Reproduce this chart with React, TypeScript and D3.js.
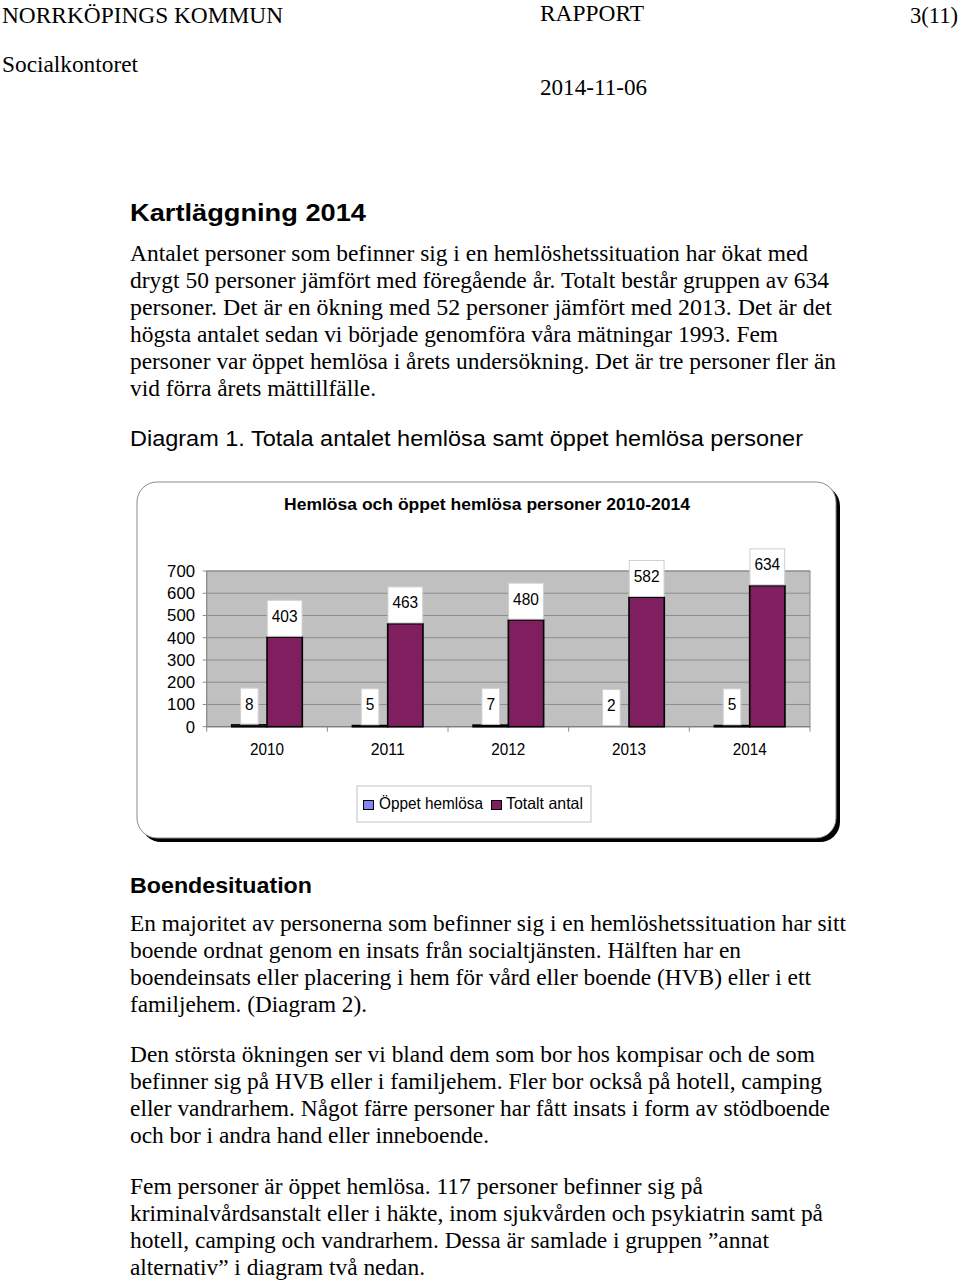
import React from "react";
import * as d3 from "d3";

// ---------- data ----------
const years = ["2010", "2011", "2012", "2013", "2014"];
const oppetHemlosa = [8, 5, 7, 2, 5];
const totaltAntal = [403, 463, 480, 582, 634];
const seriesNames = ["Öppet hemlösa", "Totalt antal"];
const seriesColors = ["#8484f2", "#7f1f5f"];
const yTicks = [0, 100, 200, 300, 400, 500, 600, 700];

const chartTitle = "Hemlösa och öppet hemlösa personer 2010-2014";

// ---------- page text ----------
const serif = "'Liberation Serif', 'Times New Roman', serif";
const sans = "'Liberation Sans', Arial, sans-serif";

type Line = { t: string; x: number; y: number; w: number };

const headerLines: Line[] = [
  { t: "NORRKÖPINGS KOMMUN", x: 2, y: 23, w: 281 },
  { t: "RAPPORT", x: 540, y: 21, w: 104 },
  { t: "3(11)", x: 910, y: 23, w: 48 },
  { t: "Socialkontoret", x: 2, y: 72, w: 136 },
  { t: "2014-11-06", x: 540, y: 95, w: 107 },
];

const para1 = [
  "Antalet personer som befinner sig i en hemlöshetssituation har ökat med",
  "drygt 50 personer jämfört med föregående år. Totalt består gruppen av 634",
  "personer. Det är en ökning med 52 personer jämfört med 2013. Det är det",
  "högsta antalet sedan vi började genomföra våra mätningar 1993. Fem",
  "personer var öppet hemlösa i årets undersökning. Det är tre personer fler än",
  "vid förra årets mättillfälle.",
];
const para1Right = [808, 829, 832, 778, 836, 376];
const para2 = [
  "En majoritet av personerna som befinner sig i en hemlöshetssituation har sitt",
  "boende ordnat genom en insats från socialtjänsten. Hälften har en",
  "boendeinsats eller placering i hem för vård eller boende (HVB) eller i ett",
  "familjehem. (Diagram 2).",
];
const para2Right = [846, 741, 811, 367];
const para3 = [
  "Den största ökningen ser vi bland dem som bor hos kompisar och de som",
  "befinner sig på HVB eller i familjehem. Fler bor också på hotell, camping",
  "eller vandrarhem. Något färre personer har fått insats i form av stödboende",
  "och bor i andra hand eller inneboende.",
];
const para3Right = [815, 822, 830, 489];
const para4 = [
  "Fem personer är öppet hemlösa. 117 personer befinner sig på",
  "kriminalvårdsanstalt eller i häkte, inom sjukvården och psykiatrin samt på",
  "hotell, camping och vandrarhem. Dessa är samlade i gruppen ”annat",
  "alternativ” i diagram två nedan.",
];
const para4Right = [703, 823, 769, 425];

function Para({ lines, rights, top }: { lines: string[]; rights: number[]; top: number }) {
  return (
    <g>
      {lines.map((t, i) => (
        <text
          key={i}
          x={130}
          y={top + i * 27}
          fontFamily={serif}
          fontSize={24}
          textLength={rights[i] - 130}
          lengthAdjust="spacingAndGlyphs"
          fill="#000"
        >
          {t}
        </text>
      ))}
    </g>
  );
}

export default function App() {
  // chart geometry
  const plotLeft = 206.7;
  const plotRight = 810;
  const plotTop = 571;
  const plotBottom = 726.7;

  const x0 = d3.scaleBand<string>().domain(years).range([plotLeft, plotRight]).paddingInner(0).paddingOuter(0);
  const x1 = d3
    .scaleBand<string>()
    .domain(seriesNames)
    .range([0, x0.bandwidth()])
    .paddingInner(0)
    .paddingOuter(0.71);
  const y = d3.scaleLinear().domain([0, 700]).range([plotBottom, plotTop]);

  const series = [oppetHemlosa, totaltAntal];
  const bw = x1.bandwidth();

  const boundaries = years.map((yr) => x0(yr) as number).concat([plotRight]);

  const labelFont = 16.5;
  const digitW = 8.6;

  return (
    <div style={{ position: "absolute", left: 0, top: 0 }}>
      <svg width={960} height={1283} style={{ display: "block" }}>
        <rect x={0} y={0} width={960} height={1283} fill="#fff" />

        {headerLines.map((l, i) => (
          <text
            key={i}
            x={l.x}
            y={l.y}
            fontFamily={serif}
            fontSize={24}
            textLength={l.w}
            lengthAdjust="spacingAndGlyphs"
          >
            {l.t}
          </text>
        ))}

        <text x={130} y={221} fontFamily={sans} fontWeight="bold" fontSize={24} textLength={236} lengthAdjust="spacingAndGlyphs">
          Kartläggning 2014
        </text>
        <Para lines={para1} rights={para1Right} top={261} />
        <text x={130} y={446} fontFamily={sans} fontSize={22} textLength={673} lengthAdjust="spacingAndGlyphs">
          Diagram 1. Totala antalet hemlösa samt öppet hemlösa personer
        </text>

        {/* chart frame */}
        <rect x={141} y={486} width={699} height={356} rx={20} ry={20} fill="#000" />
        <rect x={137} y={482} width={699} height={356} rx={20} ry={20} fill="#fff" stroke="#8a8a8a" strokeWidth={1} />

        <text
          x={487}
          y={510}
          textAnchor="middle"
          fontFamily={sans}
          fontWeight="bold"
          fontSize={16.5}
          textLength={406}
          lengthAdjust="spacingAndGlyphs"
        >
          {chartTitle}
        </text>

        {/* plot area */}
        <rect x={plotLeft} y={plotTop} width={plotRight - plotLeft} height={plotBottom - plotTop} fill="#c0c0c0" stroke="#8c8c8c" strokeWidth={1} />
        {yTicks.map((t) => (
          <g key={t}>
            <line x1={plotLeft} x2={plotRight} y1={y(t)} y2={y(t)} stroke="#8c8c8c" strokeWidth={1} />
            <line x1={plotLeft - 4} x2={plotLeft} y1={y(t)} y2={y(t)} stroke="#8c8c8c" strokeWidth={1} />
            <text x={195} y={y(t) + 6} textAnchor="end" fontFamily={sans} fontSize={16.5} textLength={String(t).length * 9.3} lengthAdjust="spacingAndGlyphs" fill="#000">
              {t}
            </text>
          </g>
        ))}
        <line x1={plotLeft} x2={plotLeft} y1={plotTop} y2={plotBottom} stroke="#8c8c8c" strokeWidth={1} />
        <line x1={plotLeft} x2={plotRight} y1={plotBottom} y2={plotBottom} stroke="#7a7a7a" strokeWidth={1} />
        {boundaries.map((bx, i) => (
          <line key={i} x1={bx} x2={bx} y1={plotBottom} y2={plotBottom + 5} stroke="#8c8c8c" strokeWidth={1} />
        ))}
        {years.map((yr) => (
          <text
            key={yr}
            x={(x0(yr) as number) + x0.bandwidth() / 2}
            y={755}
            textAnchor="middle"
            fontFamily={sans}
            fontSize={16.5}
            textLength={34}
            lengthAdjust="spacingAndGlyphs"
          >
            {yr}
          </text>
        ))}

        {/* bars */}
        {series.map((vals, si) =>
          vals.map((v, i) => {
            const bx = (x0(years[i]) as number) + (x1(seriesNames[si]) as number);
            const top = y(v);
            const h = plotBottom - top;
            return (
              <rect
                key={`${si}-${i}`}
                x={bx}
                y={top}
                width={bw}
                height={h}
                fill={h >= 1 ? seriesColors[si] : "none"}
                stroke={h >= 1 ? "#000" : "none"}
                strokeWidth={1.6}
              />
            );
          })
        )}

        {/* data labels */}
        {series.map((vals, si) =>
          vals.map((v, i) => {
            const cx = (x0(years[i]) as number) + (x1(seriesNames[si]) as number) + bw / 2;
            const txt = String(v);
            const tw = txt.length * digitW;
            const w = tw + 9;
            const bottom = y(v) - 0.8;
            const top = bottom - 36;
            return (
              <g key={`l${si}-${i}`}>
                <rect x={cx - w / 2} y={top} width={w} height={36} fill="#fff" stroke="#cfcfcf" strokeWidth={1} />
                <text x={cx} y={top + 21.5} textAnchor="middle" fontFamily={sans} fontSize={labelFont} textLength={tw} lengthAdjust="spacingAndGlyphs">
                  {txt}
                </text>
              </g>
            );
          })
        )}

        {/* legend */}
        <rect x={357} y={786} width={234} height={36} fill="#fff" stroke="#c4c4c4" strokeWidth={1} />
        <rect x={363.5} y={800.5} width={10} height={9} fill={seriesColors[0]} stroke="#000" strokeWidth={1} />
        <text x={379} y={809} fontFamily={sans} fontSize={16.5} textLength={104} lengthAdjust="spacingAndGlyphs">
          {seriesNames[0]}
        </text>
        <rect x={491.5} y={800.5} width={10} height={9} fill={seriesColors[1]} stroke="#000" strokeWidth={1} />
        <text x={506} y={809} fontFamily={sans} fontSize={16.5} textLength={77} lengthAdjust="spacingAndGlyphs">
          {seriesNames[1]}
        </text>

        <text x={130} y={893} fontFamily={sans} fontWeight="bold" fontSize={22} textLength={182} lengthAdjust="spacingAndGlyphs">
          Boendesituation
        </text>
        <Para lines={para2} rights={para2Right} top={931} />
        <Para lines={para3} rights={para3Right} top={1062} />
        <Para lines={para4} rights={para4Right} top={1194} />
      </svg>
    </div>
  );
}
